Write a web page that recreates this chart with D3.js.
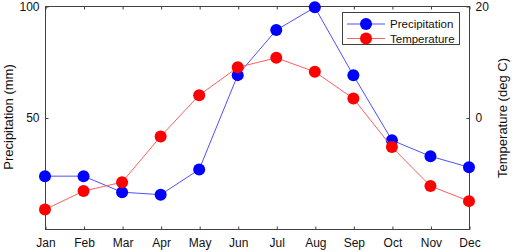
<!DOCTYPE html>
<html><head><meta charset="utf-8">
<script src="https://cdn.jsdelivr.net/npm/d3@7"></script>
<style>body{margin:0;background:#fff}svg{display:block;font-family:"Liberation Sans",Arial,Helvetica,sans-serif}</style>
</head><body><svg id="c" width="512" height="252"></svg>
<script>
const months = ["Jan","Feb","Mar","Apr","May","Jun","Jul","Aug","Sep","Oct","Nov","Dec"];
const precipitation = [23.7,23.7,16.5,15.4,26.7,69.0,89.2,99.4,68.9,39.8,32.6,27.7];
const temperature = [-16.5,-13.2,-11.6,-3.4,4.0,9.0,10.7,8.2,3.4,-5.3,-12.3,-15.0];
const leftTicks = [50,100];
const rightTicks = [0,20];

const svg = d3.select("#c");
const L=45, R=469, T=6, B=229;
const axisCol = "#404040";
const x = d3.scalePoint().domain(months).range([L,R]);
const yL = d3.scaleLinear().domain([0,100]).range([B,T]);
const yR = d3.scaleLinear().domain([-20,20]).range([B,T]);

// box
const g = svg.append("g");
g.append("rect").attr("x",L+0.5).attr("y",T+0.5).attr("width",R-L).attr("height",B-T)
  .attr("fill","none").attr("stroke",axisCol).attr("stroke-width",1);

// bottom axis
const xb = g.append("g").attr("transform",`translate(0.5,${B+0.5})`)
  .call(d3.axisBottom(x).tickSizeInner(-3).tickSizeOuter(0).tickPadding(9));
const xt = g.append("g").attr("transform",`translate(0.5,${T+0.5})`)
  .call(d3.axisTop(x).tickSizeInner(-3).tickSizeOuter(0).tickFormat(""));
const yl = g.append("g").attr("transform",`translate(${L+0.5},0.5)`)
  .call(d3.axisLeft(yL).tickValues(leftTicks).tickSizeInner(-3).tickSizeOuter(0).tickPadding(6));
const yr = g.append("g").attr("transform",`translate(${R+0.5},0.5)`)
  .call(d3.axisRight(yR).tickValues(rightTicks).tickSizeInner(-3).tickSizeOuter(0).tickPadding(6));
[xb,xt,yl,yr].forEach(a=>{
  a.select(".domain").remove();
  a.selectAll("line").attr("stroke",axisCol);
  a.selectAll("text").attr("fill","#111").style("font-size","12px");
});

// axis labels
svg.append("text").attr("transform",`translate(13,117) rotate(-90)`).attr("text-anchor","middle")
  .style("font-size","13px").attr("fill","#111").text("Precipitation (mm)");
svg.append("text").attr("transform",`translate(507,118) rotate(-90)`).attr("text-anchor","middle")
  .style("font-size","13px").attr("fill","#111").text("Temperature (deg C)");

const series = [
  {name:"Precipitation", vals:precipitation, y:yL, line:"#4f4fff", mark:"#0000ff"},
  {name:"Temperature", vals:temperature, y:yR, line:"#ff5f5f", mark:"#ff0000"}
];
series.forEach(s=>{
  const line = d3.line().x((d,i)=>x(months[i])).y(d=>s.y(d));
  svg.append("path").attr("d",line(s.vals)).attr("fill","none").attr("stroke",s.line).attr("stroke-width",1);
  svg.selectAll(null).data(s.vals).enter().append("circle")
    .attr("cx",(d,i)=>x(months[i])).attr("cy",d=>s.y(d)).attr("r",6).attr("fill",s.mark);
});

// legend
const lg = svg.append("g");
lg.append("rect").attr("x",342.5).attr("y",12.5).attr("width",117).attr("height",32)
  .attr("fill","#fff").attr("stroke",axisCol).attr("stroke-width",1);
series.forEach((s,i)=>{
  const yy = 24 + i*14.5;
  lg.append("line").attr("x1",347).attr("x2",385).attr("y1",yy).attr("y2",yy).attr("stroke",s.line);
  lg.append("circle").attr("cx",366).attr("cy",yy).attr("r",6).attr("fill",s.mark);
  lg.append("text").attr("x",390).attr("y",yy+4).style("font-size","11.5px").attr("fill","#111").text(s.name);
});
</script></body></html>
